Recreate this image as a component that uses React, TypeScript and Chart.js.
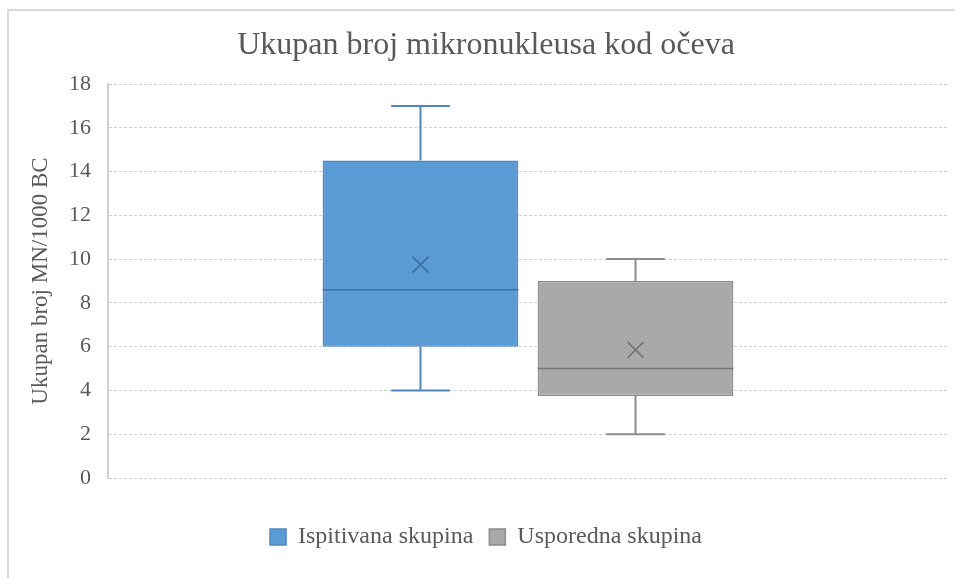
import React, { useEffect, useRef } from "react";
import { Chart, registerables } from "chart.js";

Chart.register(...registerables);

const categories = [""];
const seriesNames = ["Ispitivana skupina", "Usporedna skupina"];
const minValues = [4, 2];
const q1Values = [6, 3.75];
const medianValues = [8.6, 5];
const q3Values = [14.5, 9];
const maxValues = [17, 10];
const meanValues = [9.75, 5.85];
const yTicks = [0, 2, 4, 6, 8, 10, 12, 14, 16, 18];

const FONT = "'Liberation Serif', 'Times New Roman', serif";
const TEXT = "#595959";

function grayPattern(): CanvasPattern | string {
  const c = document.createElement("canvas");
  c.width = 4;
  c.height = 4;
  const g = c.getContext("2d");
  if (!g) return "#a5a5a5";
  g.fillStyle = "#aaaaaa";
  g.fillRect(0, 0, 4, 4);
  g.fillStyle = "#9c9c9c";
  g.fillRect(0, 0, 1, 1);
  g.fillRect(2, 2, 1, 1);
  g.fillStyle = "#b0b0b0";
  g.fillRect(2, 0, 1, 1);
  g.fillRect(0, 2, 1, 1);
  const p = g.createPattern(c, "repeat");
  return p || "#a5a5a5";
}

const fills = ["#5b9bd5", "#a5a5a5"];
const borders = ["#4f87bd", "#8c8c8c"];
const darkLines = ["#41709f", "#767676"];

const boxPlugin = {
  id: "boxExtras",
  beforeDraw(chart: any) {
    const ctx = chart.ctx;
    ctx.save();
    ctx.fillStyle = "#ffffff";
    ctx.fillRect(0, 0, chart.width, chart.height);
    ctx.strokeStyle = "#d9d9d9";
    ctx.lineWidth = 2;
    ctx.strokeRect(8, 10, chart.width + 20, chart.height + 20);
    ctx.restore();
  },
  afterDatasetsDraw(chart: any) {
    const ctx = chart.ctx;
    const y = chart.scales.y;
    chart.data.datasets.forEach((ds: any, i: number) => {
      const meta = chart.getDatasetMeta(i);
      meta.data.forEach((bar: any) => {
        const x = bar.x;
        const w = bar.width;
        const capHalf = w * 0.15;
        const pMin = y.getPixelForValue(minValues[i]);
        const pQ1 = y.getPixelForValue(q1Values[i]);
        const pQ3 = y.getPixelForValue(q3Values[i]);
        const pMax = y.getPixelForValue(maxValues[i]);
        const pMed = y.getPixelForValue(medianValues[i]);
        const pMean = y.getPixelForValue(meanValues[i]);
        ctx.save();
        ctx.strokeStyle = borders[i];
        ctx.lineWidth = 2;
        ctx.beginPath();
        ctx.moveTo(x, pQ3);
        ctx.lineTo(x, pMax);
        ctx.moveTo(x - capHalf, pMax);
        ctx.lineTo(x + capHalf, pMax);
        ctx.moveTo(x, pQ1);
        ctx.lineTo(x, pMin);
        ctx.moveTo(x - capHalf, pMin);
        ctx.lineTo(x + capHalf, pMin);
        ctx.stroke();
        ctx.strokeStyle = darkLines[i];
        ctx.lineWidth = 1.5;
        ctx.beginPath();
        ctx.moveTo(x - w / 2, pMed);
        ctx.lineTo(x + w / 2, pMed);
        ctx.stroke();
        const s = 8;
        ctx.lineWidth = 1.8;
        ctx.beginPath();
        ctx.moveTo(x - s, pMean - s);
        ctx.lineTo(x + s, pMean + s);
        ctx.moveTo(x + s, pMean - s);
        ctx.lineTo(x - s, pMean + s);
        ctx.stroke();
        ctx.restore();
      });
    });
  },
};

export default function App() {
  const ref = useRef<HTMLCanvasElement | null>(null);
  useEffect(() => {
    document.body.style.margin = "0";
    const canvas = ref.current;
    if (!canvas) return;
    const bg = [fills[0], grayPattern()];
    const chart = new Chart(canvas, {
      type: "bar",
      data: {
        labels: categories,
        datasets: seriesNames.map((name, i) => ({
          label: name,
          data: categories.map(() => [q1Values[i], q3Values[i]] as any),
          backgroundColor: bg[i] as any,
          borderColor: borders[i],
          borderWidth: 1.5,
          borderSkipped: false,
          categoryPercentage: 0.512,
          barPercentage: 0.91,
        })),
      },
      options: {
        responsive: false,
        animation: false,
        layout: { padding: { left: 24, right: 7, top: 0, bottom: 19 } },
        plugins: {
          title: {
            display: true,
            text: "Ukupan broj mikronukleusa kod očeva",
            color: TEXT,
            font: { family: FONT, size: 32, weight: "normal" },
            padding: { top: 26, bottom: 19.6 },
          },
          legend: {
            position: "bottom",
            labels: {
              color: TEXT,
              font: { family: FONT, size: 24 },
              boxWidth: 16,
              boxHeight: 16,
              padding: 16,
            },
          },
          tooltip: { enabled: false },
        },
        scales: {
          x: {
            display: true,
            ticks: { display: false },
            grid: { display: false, drawTicks: false },
            border: { display: false },
            afterFit: (s: any) => {
              s.height = 31;
            },
          },
          y: {
            min: 0,
            max: 18,
            afterBuildTicks: (s: any) => {
              s.ticks = yTicks.map((v) => ({ value: v }));
            },
            ticks: {
              color: TEXT,
              font: { family: FONT, size: 22 },
              padding: 17,
            },
            grid: { color: "#d0d0d0", lineWidth: 1, drawTicks: false },
            border: { display: true, color: "#d0d0d0", width: 2, dash: [3, 2] },
            title: {
              display: true,
              text: "Ukupan broj MN/1000 BC",
              color: TEXT,
              font: { family: FONT, size: 23 },
              padding: { top: 3, bottom: 0 },
            },
            afterFit: (s: any) => {
              s.width = 84;
            },
          },
        },
      },
      plugins: [boxPlugin],
    });
    return () => chart.destroy();
  }, []);
  return (
    <div style={{ position: "absolute", left: 0, top: 0, width: 955, height: 578 }}>
      <canvas ref={ref} width={955} height={578} style={{ display: "block" }} />
    </div>
  );
}
